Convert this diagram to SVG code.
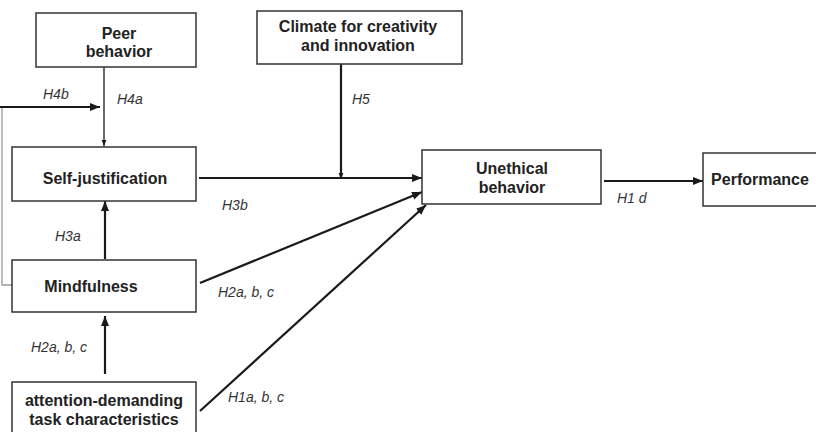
<svg xmlns="http://www.w3.org/2000/svg" width="816" height="432" viewBox="0 0 816 432">
<style>
.box{fill:#fff;stroke:#333;stroke-width:1.5}
.nt{font-family:"Liberation Sans",Arial,sans-serif;font-weight:bold;font-size:16px;fill:#222;text-anchor:middle}
.lb{font-family:"Liberation Sans",Arial,sans-serif;font-style:italic;font-size:14px;fill:#333}
.thick{stroke:#1a1a1a;stroke-width:2.2;fill:none}
.thin{stroke:#1a1a1a;stroke-width:1.3;fill:none}
.gray{stroke:#999;stroke-width:1.3;fill:none}
</style>
<defs>
<marker id="ah" markerUnits="userSpaceOnUse" markerWidth="10" markerHeight="10" viewBox="0 0 10 10" refX="10" refY="5" orient="auto">
<path d="M0,1 L10,5 L0,9 Z" fill="#1a1a1a"/>
</marker>
<marker id="ahs" markerUnits="userSpaceOnUse" markerWidth="6" markerHeight="6" viewBox="0 0 10 10" refX="10" refY="5" orient="auto">
<path d="M0,1 L10,5 L0,9 Z" fill="#1a1a1a"/>
</marker>
</defs>
<g id="connectors">
<polyline class="gray" points="12,285 2,285 2,107"/>
<line class="thick" x1="0" y1="107" x2="100" y2="107" marker-end="url(#ah)"/>
<line class="thin" x1="104" y1="67" x2="104" y2="146" marker-end="url(#ahs)"/>
<line class="thick" x1="341" y1="64" x2="341" y2="179" marker-end="url(#ahs)"/>
<line class="thick" x1="199" y1="178" x2="422" y2="178" marker-end="url(#ah)"/>
<line class="thick" x1="105" y1="259" x2="105" y2="201" marker-end="url(#ah)"/>
<line class="thick" x1="200" y1="283" x2="422" y2="192" marker-end="url(#ah)"/>
<line class="thick" x1="200" y1="411" x2="426" y2="205" marker-end="url(#ah)"/>
<line class="thick" x1="105" y1="374" x2="105" y2="316" marker-end="url(#ah)"/>
<line class="thick" x1="604" y1="181" x2="703" y2="181" marker-end="url(#ah)"/>
</g>
<g id="peer">
<rect class="box" x="36" y="13" width="160" height="54"/>
<text class="nt" x="119" y="39">Peer</text>
<text class="nt" x="119" y="57">behavior</text>
</g>
<g id="climate">
<rect class="box" x="257" y="11" width="205" height="53"/>
<text class="nt" x="358" y="32">Climate for creativity</text>
<text class="nt" x="358" y="51">and innovation</text>
</g>
<g id="selfjust">
<rect class="box" x="12" y="147" width="184" height="54"/>
<text class="nt" x="105" y="184">Self-justification</text>
</g>
<g id="mindfulness">
<rect class="box" x="12" y="260" width="184" height="52"/>
<text class="nt" x="91" y="292">Mindfulness</text>
</g>
<g id="attention">
<rect class="box" x="12" y="382" width="184" height="60"/>
<text class="nt" x="104" y="406">attention-demanding</text>
<text class="nt" x="104" y="425">task characteristics</text>
</g>
<g id="unethical">
<rect class="box" x="422" y="150" width="179" height="54"/>
<text class="nt" x="512" y="174">Unethical</text>
<text class="nt" x="512" y="193">behavior</text>
</g>
<g id="performance">
<rect class="box" x="703" y="153" width="120" height="53"/>
<text class="nt" x="760" y="185">Performance</text>
</g>
<g id="labels">
<text class="lb" x="43" y="99">H4b</text>
<text class="lb" x="117" y="104">H4a</text>
<text class="lb" x="352" y="104">H5</text>
<text class="lb" x="222" y="210">H3b</text>
<text class="lb" x="55" y="241">H3a</text>
<text class="lb" x="218" y="297">H2a, b, c</text>
<text class="lb" x="31" y="352">H2a, b, c</text>
<text class="lb" x="228" y="402">H1a, b, c</text>
<text class="lb" x="617" y="203">H1 d</text>
</g>
</svg>
